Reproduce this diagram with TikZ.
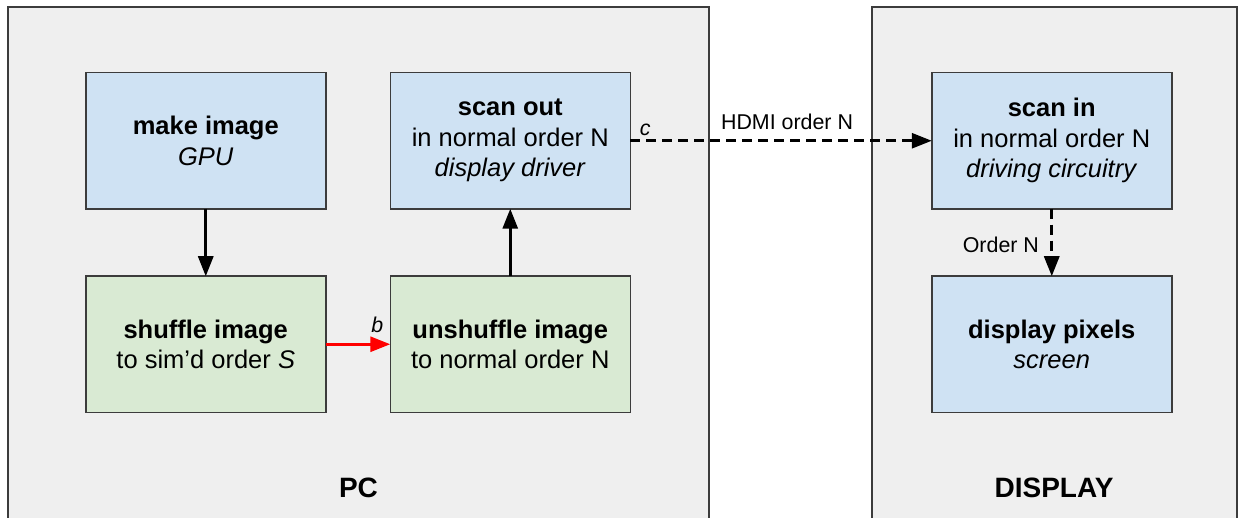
\documentclass[tikz,border=0pt]{standalone}
\usepackage{fontspec}
\setmainfont{Liberation Sans}
\usepackage{xcolor}
\usepackage{tikz}
\usetikzlibrary{arrows.meta, calc, matrix}

\definecolor{boxblue}{HTML}{CFE2F3}
\definecolor{boxgreen}{HTML}{D9EAD3}
\definecolor{panelgray}{HTML}{EFEFEF}
\definecolor{edgegray}{HTML}{3C3C3C}
\tikzset{
  blk/.style={draw=edgegray, line width=1.5pt, fill=boxblue},
  grn/.style={blk, fill=boxgreen},
  panel/.style={draw=edgegray, line width=1.5pt, fill=panelgray},
  lbl/.style={font=\fontsize{21.4}{25}\selectfont, text=black},
  ttl/.style={font=\fontsize{28}{33}\selectfont\bfseries},
  arr/.style={-{Triangle[length=20pt,width=15pt]}, line width=3pt},
  dasharr/.style={arr, dash pattern=on 10pt off 6pt},
}

\begin{document}
\begin{tikzpicture}[x=1pt, y=-1pt]
  \clip (0,0) rectangle (1238,518);
  \useasboundingbox (0,0) rectangle (1238,518);
  \path[panel] (8,7) rectangle (709,540);
  \path[panel] (872,7) rectangle (1237,540);
  \node[ttl] (pc) at (358.5,488) {PC};
  \node[ttl] (disp) at (1054,488) {DISPLAY};
  \matrix (m) [
      row sep=66pt,column sep=63pt,
      inner sep=0pt,outer sep=0pt,anchor=north west,at={(85,72)},
      nodes={blk,minimum width=240pt,minimum height=136pt,
        align=center,anchor=center,inner sep=0pt,outer sep=0pt,
        font=\fontsize{25.5}{30.5}\selectfont}
  ] {
    \node (make) {\textbf{make image}\\\textit{GPU}}; &
    \node (scanout) {\textbf{scan out}\\in normal order N\\\textit{display driver}}; &[237pt]
    \node (scanin) {\textbf{scan in}\\in normal order N\\\textit{driving circuitry}}; \\
    \node[grn] (shuffle) {\textbf{shuffle image}\\to sim’d order \textit{S}}; &
    \node[grn] (unshuffle) {\textbf{unshuffle image}\\to normal order N}; &
    \node (pixels) {\textbf{display pixels}\\\textit{screen}}; \\
  };
  \path[arr]
    (make) edge (shuffle)
    (unshuffle) edge (scanout)
    (shuffle) edge[red] node[lbl, above, pos=0.8, yshift=7pt] {\textit{b}} (unshuffle);
  \path[dasharr]
    (scanout) edge node[lbl, above, pos=0.05] {\textit{c}}
      node[lbl, above, pos=0.52, yshift=6pt] {HDMI order N} (scanin)
    (scanin) edge node[lbl, left, xshift=-8pt, yshift=-2pt] {Order N} (pixels);
\end{tikzpicture}
\end{document}
